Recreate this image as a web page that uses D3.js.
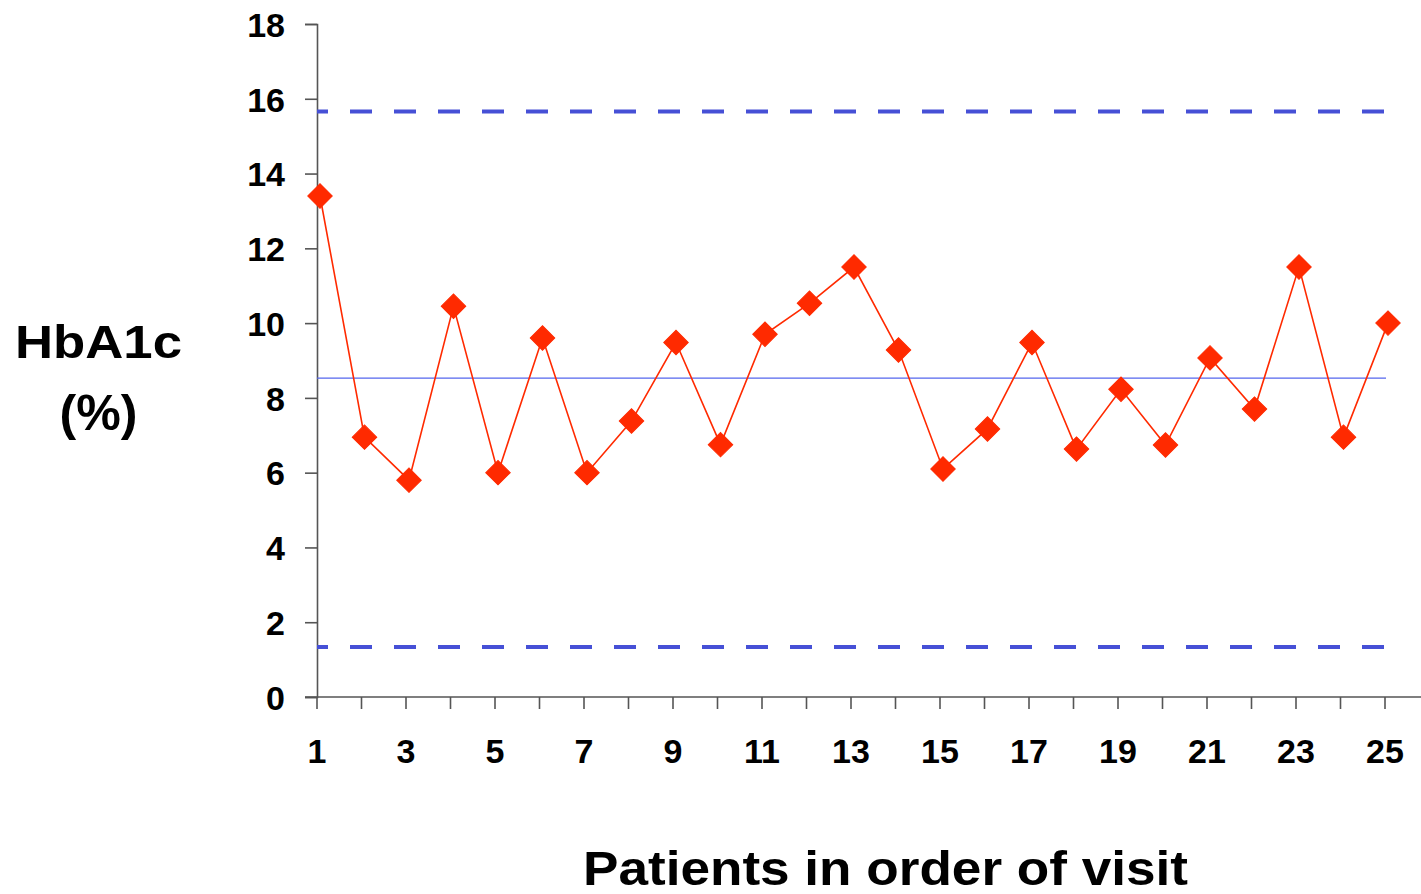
<!DOCTYPE html>
<html>
<head>
<meta charset="utf-8">
<script src="https://cdn.jsdelivr.net/npm/d3@7"></script>
<style>
  html, body { margin: 0; padding: 0; background: #fff; }
  svg { display: block; }
  text { font-family: "Liberation Sans", Arial, sans-serif; font-weight: bold; fill: #000; }
</style>
</head>
<body>
<svg id="chart" width="1421" height="894"></svg>
<script>
// ---- data ----
const patients = [1,2,3,4,5,6,7,8,9,10,11,12,13,14,15,16,17,18,19,20,21,22,23,24,25];
const hba1c = [13.4,6.95,5.8,10.45,6.0,9.6,6.0,7.38,9.48,6.75,9.7,10.53,11.5,9.28,6.1,7.17,9.48,6.63,8.23,6.74,9.07,7.7,11.5,6.95,10.0];
const meanValue = [8.53];
const controlLimits = [15.66, 1.34];
const yTicks = [0,2,4,6,8,10,12,14,16,18];
const xTickLabels = [1,3,5,7,9,11,13,15,17,19,21,23,25];
const yTitle = ["HbA1c", "(%)"];
const xTitle = "Patients in order of visit";

// ---- layout ----
const svg = d3.select("#chart");
const x = d3.scaleLinear().domain([1, 25]).range([317, 1385]);
const y = d3.scaleLinear().domain([0, 18]).range([697, 24]);

const axisColor = "#555";

// y axis
const yAxis = d3.axisLeft(y).tickValues(yTicks).tickSize(12).tickPadding(20).tickFormat(d3.format("d"));
const gy = svg.append("g").attr("transform", "translate(317,0)").call(yAxis);
gy.select(".domain").attr("stroke", axisColor).attr("stroke-width", 1.6);
gy.selectAll(".tick line").attr("stroke", axisColor).attr("stroke-width", 1.6);
gy.selectAll(".tick text").style("font-size", "34px").style("font-family", "'Liberation Sans', Arial, sans-serif").style("font-weight", "bold").attr("fill", "#000").attr("dy", "0.36em");

// x axis
const gx = svg.append("g").attr("transform", "translate(0,697)");
gx.append("line").attr("x1", 305).attr("x2", 1421).attr("y1", 0).attr("y2", 0)
  .attr("stroke", axisColor).attr("stroke-width", 1.6);
gx.selectAll("line.xt").data(patients).enter().append("line")
  .attr("class", "xt")
  .attr("x1", d => x(d)).attr("x2", d => x(d))
  .attr("y1", 0).attr("y2", 12)
  .attr("stroke", axisColor).attr("stroke-width", 1.6);
gx.selectAll("text.xl").data(xTickLabels).enter().append("text")
  .attr("class", "xl")
  .attr("x", d => x(d)).attr("y", 66)
  .attr("text-anchor", "middle")
  .style("font-size", "34px")
  .text(d => d);

// control limits (dashed)
svg.selectAll("line.cl").data(controlLimits).enter().append("line")
  .attr("class", "cl")
  .attr("x1", 317).attr("x2", 1389)
  .attr("y1", d => y(d)).attr("y2", d => y(d))
  .attr("stroke", "#4650d6").attr("stroke-width", 4)
  .attr("stroke-dasharray", "22 22").attr("stroke-dashoffset", 11);

// mean line
svg.selectAll("line.mean").data(meanValue).enter().append("line")
  .attr("class", "mean")
  .attr("x1", 317).attr("x2", 1386)
  .attr("y1", d => y(d)).attr("y2", d => y(d))
  .attr("stroke", "#5566ee").attr("stroke-width", 1.2);

// series
const pts = patients.map((p, i) => ({p, v: hba1c[i]}));
const gs = svg.append("g").attr("transform", "translate(3,0)");
gs.append("path").datum(pts)
  .attr("fill", "none").attr("stroke", "#ff2a00").attr("stroke-width", 1.6)
  .attr("d", d3.line().x(d => x(d.p)).y(d => y(d.v)));
const sym = d3.symbol().type(d3.symbolSquare).size(300);
gs.selectAll("path.m").data(pts).enter().append("path")
  .attr("class", "m")
  .attr("d", sym)
  .attr("transform", d => `translate(${x(d.p)},${y(d.v)}) rotate(45)`)
  .attr("fill", "#ff2a00").attr("stroke", "#ff2a00").attr("stroke-width", 1);

// titles
svg.append("text").attr("x", 98.5).attr("y", 358).attr("text-anchor", "middle")
  .style("font-size", "46px").attr("textLength", 167).attr("lengthAdjust", "spacingAndGlyphs")
  .text(yTitle[0]);
svg.append("text").attr("x", 98.5).attr("y", 430).attr("text-anchor", "middle")
  .style("font-size", "50px").attr("textLength", 78).attr("lengthAdjust", "spacingAndGlyphs")
  .text(yTitle[1]);
svg.append("text").attr("x", 885.5).attr("y", 885).attr("text-anchor", "middle")
  .style("font-size", "48px").attr("textLength", 605).attr("lengthAdjust", "spacingAndGlyphs")
  .text(xTitle);
</script>
</body>
</html>
